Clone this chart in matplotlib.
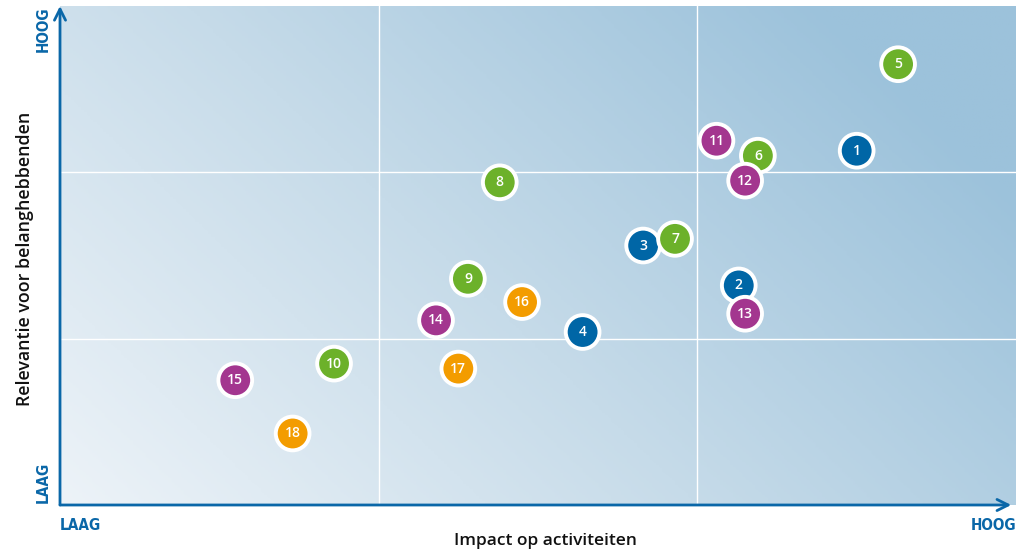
import numpy as np
import matplotlib.pyplot as plt
from matplotlib.colors import LinearSegmentedColormap

# impact (x) and relevance (y) on a 0-3 scale
labels = [str(i) for i in range(1, 19)]
impact = [2.50, 2.13, 1.83, 1.64, 2.63, 2.19, 1.93, 1.38, 1.28,
          0.86, 2.06, 2.15, 2.15, 1.18, 0.55, 1.45, 1.25, 0.73]
relevance = [2.13, 1.32, 1.56, 1.04, 2.65, 2.10, 1.60, 1.94, 1.36,
             0.85, 2.19, 1.95, 1.15, 1.11, 0.75, 1.22, 0.82, 0.43]
groups = ['b', 'b', 'b', 'b', 'g', 'g', 'g', 'g', 'g',
          'g', 'p', 'p', 'p', 'p', 'p', 'o', 'o', 'o']
group_colors = {'b': '#0066a6', 'g': '#6cb12a', 'p': '#a3368f', 'o': '#f39c00'}

axis_blue = '#0a67a8'

fig = plt.figure(figsize=(10.16, 5.54), dpi=100)
ax = fig.add_axes([60 / 1016, 49 / 554, 956 / 1016, 499 / 554])
ax.set_xlim(0, 3)
ax.set_ylim(0, 3)

# background gradient, light bottom-left to blue top-right
gx, gy = np.meshgrid(np.linspace(0, 1, 300), np.linspace(0, 1, 200))
t = np.clip(0.75 * gx + 0.4 * gy, 0, 1)
cmap = LinearSegmentedColormap.from_list('bg', ['#edf3f8', '#c6dbe9', '#9cc2db'])
ax.imshow(t, extent=(0, 3, 0, 3), origin='lower', cmap=cmap, aspect='auto',
          vmin=0, vmax=1, zorder=0)

for v in (1, 2):
    ax.axvline(v, color='white', lw=1, zorder=1)
    ax.axhline(v, color='white', lw=1, zorder=1)

cols = [group_colors[g] for g in groups]
ax.scatter(impact, relevance, s=590, c=cols, edgecolors='white', linewidths=2.8,
           zorder=3, clip_on=False)
for lab, x, y in zip(labels, impact, relevance):
    ax.text(x, y, lab, color='white', fontsize=10, fontweight='semibold',
            ha='center', va='center', family='Open Sans', zorder=4)

for s in ax.spines.values():
    s.set_visible(False)
ax.set_xticks([])
ax.set_yticks([])

# axis arrows
ax.annotate('', xy=(2.985, 0), xytext=(0, 0), xycoords='data',
            arrowprops=dict(arrowstyle='->', color=axis_blue, lw=2,
                            mutation_scale=20, shrinkA=0, shrinkB=0),
            annotation_clip=False)
ax.annotate('', xy=(0, 3.0), xytext=(0, 0), xycoords='data',
            arrowprops=dict(arrowstyle='->', color=axis_blue, lw=2,
                            mutation_scale=20, shrinkA=0, shrinkB=0),
            annotation_clip=False)

bold = dict(color=axis_blue, fontsize=11, fontweight='bold', fontstretch='condensed',
            family=['DejaVu Sans'])
fig.text(60 / 1016, 1 - 525 / 554, 'LAAG', ha='left', va='center', **bold)
fig.text(1016 / 1016, 1 - 525 / 554, 'HOOG', ha='right', va='center', **bold)
fig.text(43 / 1016, 1 - 482 / 554, 'LAAG', ha='center', va='center', rotation=90, **bold)
fig.text(43 / 1016, 1 - 29 / 554, 'HOOG', ha='center', va='center', rotation=90, **bold)

fig.text(545 / 1016, 1 - 541 / 554, 'Impact op activiteiten', ha='center', va='center',
         fontsize=12.5, fontweight='semibold', family='Open Sans', color='#111111')
fig.text(25 / 1016, 1 - 259 / 554, 'Relevantie voor belanghebbenden', ha='center',
         va='center', rotation=90, fontsize=12.8, fontweight='semibold',
         family='Open Sans', color='#111111')

fig.savefig('out.png', dpi=100)
